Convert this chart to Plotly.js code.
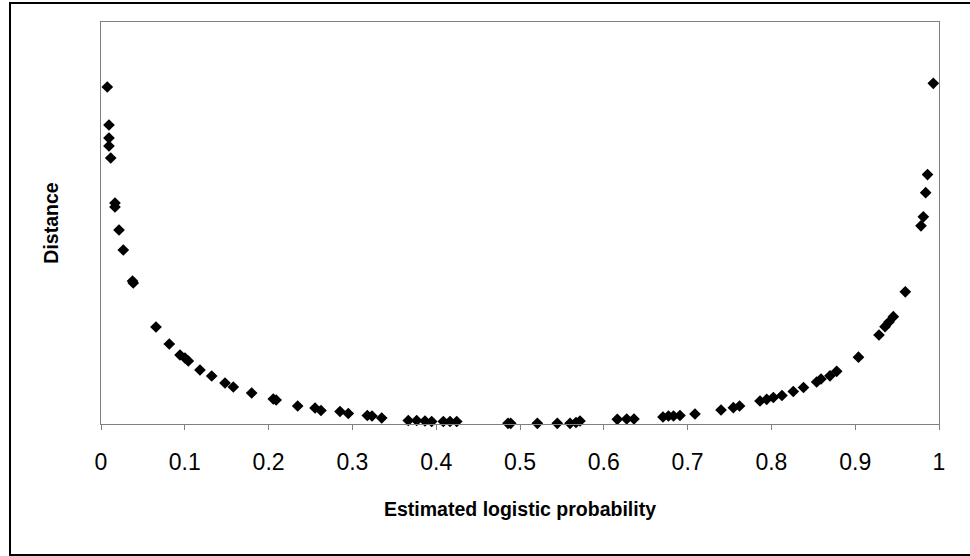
<!DOCTYPE html>
<html>
<head>
<meta charset="utf-8">
<script src="https://cdn.plot.ly/plotly-3.0.1.min.js"></script>
<style>html,body{margin:0;padding:0;background:#fff;}#chart{width:970px;height:556px;}</style>
</head>
<body>
<div id="chart"></div>
<script>
// Estimated logistic probability (x) and distance (y, arbitrary units)
const probability = [
  0.0075, 0.0095, 0.0095, 0.0095, 0.0116, 0.0167, 0.0167, 0.0215, 0.0266, 0.0385, 0.0376,
  0.0656, 0.0815, 0.0943, 0.1002, 0.1042, 0.1181, 0.1321, 0.148, 0.1579, 0.1798, 0.2056, 0.209,
  0.2347, 0.2554, 0.2625, 0.2852, 0.2951, 0.3178, 0.3234, 0.335, 0.3667, 0.3767, 0.3866, 0.3946,
  0.4085, 0.4165, 0.4245, 0.4889, 0.4857, 0.5207, 0.5445, 0.5597, 0.5668, 0.5716, 0.6161, 0.6273,
  0.636, 0.6706, 0.6772, 0.6832, 0.6909, 0.7088, 0.7399, 0.7546, 0.762, 0.7864, 0.7944, 0.8023,
  0.8126, 0.8261, 0.8383, 0.854, 0.8592, 0.8699, 0.8779, 0.9039, 0.9284, 0.9356, 0.9403, 0.9455,
  0.9598, 0.9785, 0.9813, 0.9841, 0.9863, 0.9932
];
const distance = [
  3.37, 2.99, 2.86, 2.78, 2.66, 2.21, 2.17, 1.94, 1.74, 1.41, 1.43,
  0.97, 0.80, 0.69, 0.66, 0.63, 0.54, 0.48, 0.41, 0.37, 0.31, 0.25, 0.24,
  0.18, 0.16, 0.135, 0.125, 0.105, 0.085, 0.08, 0.06, 0.035, 0.035, 0.03, 0.025,
  0.025, 0.025, 0.025, 0.007, 0.007, 0.007, 0.007, 0.007, 0.015, 0.03, 0.047, 0.05,
  0.05, 0.07, 0.08, 0.08, 0.085, 0.10, 0.14, 0.163, 0.18, 0.23, 0.247, 0.265,
  0.285, 0.325, 0.365, 0.42, 0.45, 0.482, 0.527, 0.668, 0.89, 0.973, 1.02, 1.073,
  1.322, 1.982, 2.072, 2.313, 2.494, 3.407
];
const xTickValues = [0, 0.1, 0.2, 0.3, 0.4, 0.5, 0.6, 0.7, 0.8, 0.9, 1];
const xTickLabels = ["0", "0.1", "0.2", "0.3", "0.4", "0.5", "0.6", "0.7", "0.8", "0.9", "1"];

const trace = {
  type: 'scatter', mode: 'markers',
  x: probability, y: distance,
  marker: {symbol: 'diamond', size: 9, color: '#000000', line: {width: 0}},
  cliponaxis: false, hoverinfo: 'x+y'
};

const layout = {
  width: 970, height: 556,
  margin: {l: 101, r: 31, t: 22, b: 132, pad: 0},
  paper_bgcolor: '#ffffff', plot_bgcolor: '#ffffff',
  showlegend: false,
  font: {family: 'Liberation Sans, Arial, sans-serif', color: '#000000'},
  xaxis: {
    range: [0, 1], tickmode: 'array', tickvals: xTickValues, ticktext: xTickLabels,
    ticks: 'outside', ticklen: 5, tickcolor: '#808080', tickwidth: 1,
    ticklabelstandoff: 12,
    showline: true, linecolor: '#808080', linewidth: 1, mirror: true,
    showgrid: false, zeroline: false,
    tickfont: {size: 23, color: '#000000'},
    title: {text: 'Estimated logistic probability', font: {size: 19.5, color: '#000000', weight: 'bold'}, standoff: 28}
  },
  yaxis: {
    range: [0, 4.02], showticklabels: false, ticks: '',
    showline: true, linecolor: '#808080', linewidth: 1, mirror: true,
    showgrid: false, zeroline: false,
    title: {text: 'Distance', font: {size: 19.5, color: '#000000', weight: 'bold'}, standoff: 36}
  },
  shapes: [{
    type: 'rect', xref: 'paper', yref: 'paper',
    x0: (10 - 101) / 838, x1: (975 - 101) / 838,
    y0: (424 - 555) / 402, y1: (424 - 3) / 402,
    line: {color: '#000000', width: 2}, fillcolor: 'rgba(0,0,0,0)', layer: 'below'
  }]
};

Plotly.newPlot('chart', [trace], layout, {displayModeBar: false, staticPlot: true});
</script>
</body>
</html>
